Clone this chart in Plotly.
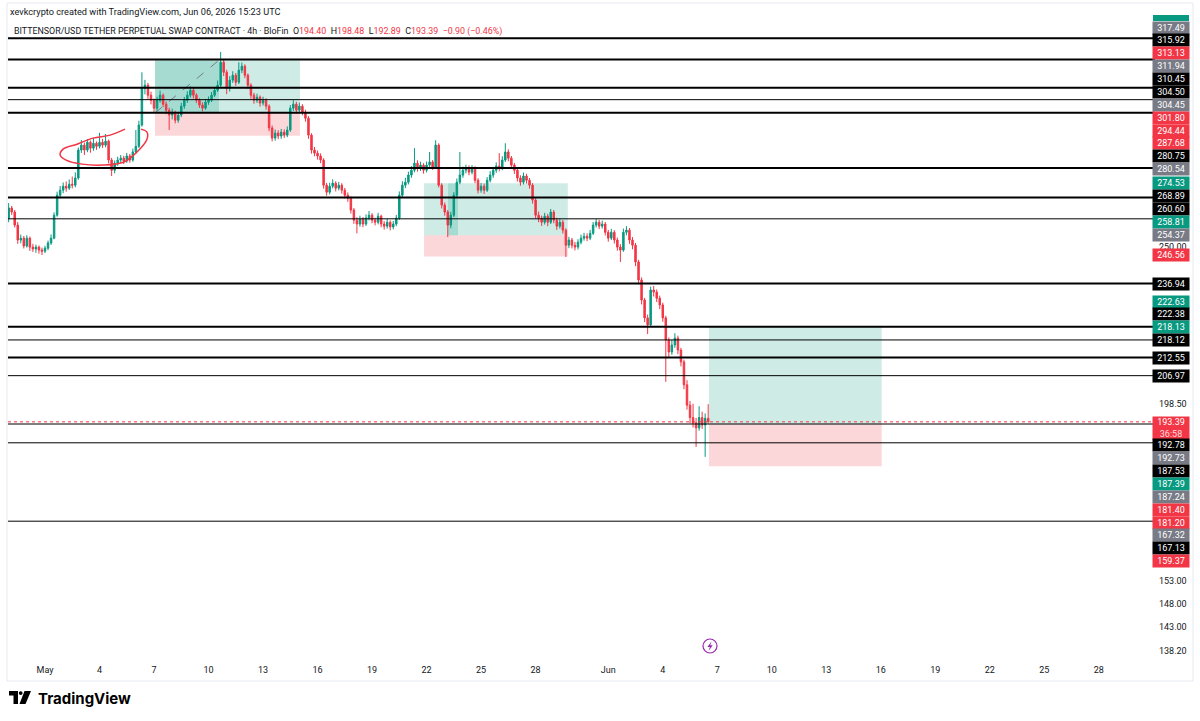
import math
import pandas as pd
import plotly.graph_objects as go

GREEN = "#089981"
RED = "#f23645"
GRAY = "#787b86"
INK = "#131722"

# 4h candles, BittensorUSDT perp on BloFin
bar_times = pd.date_range("2026-04-29 00:00", periods=232, freq="4h")

opens = [
    260.9, 264.8, 263.2, 258.2, 252.6, 253.3, 250.4, 253.3, 250.0, 249.3,
    250.0, 248.9, 248.5, 249.6, 251.5, 253.3, 262.0, 269.8, 271.8, 273.4,
    272.6, 274.2, 273.8, 276.7, 288.3, 290.4, 288.3, 291.6, 289.1, 291.2,
    289.9, 291.6, 290.4, 292.1, 284.1, 279.9, 282.8, 284.1, 284.9, 283.7,
    285.8, 284.1, 287.5, 289.9, 299.1, 315.7, 317.1, 312.5, 310.2, 306.6,
    310.2, 312.5, 308.4, 305.7, 303.5, 304.8, 301.2, 303.5, 307.5, 310.2,
    312.5, 314.8, 312.5, 310.2, 308.0, 306.6, 309.3, 310.2, 312.5, 314.8,
    317.1, 328.0, 323.2, 315.7, 319.5, 321.8, 318.5, 324.2, 326.1, 321.8,
    317.1, 312.5, 310.2, 311.6, 308.9, 310.2, 307.5, 297.8, 293.4, 295.6,
    294.3, 296.0, 294.7, 296.9, 306.6, 308.4, 305.7, 307.5, 304.8, 302.1,
    294.7, 288.3, 287.0, 285.8, 284.1, 273.8, 271.0, 273.4, 274.6, 272.6,
    273.8, 271.8, 269.8, 268.6, 264.0, 260.1, 258.6, 260.5, 258.6, 260.9,
    262.0, 260.1, 259.3, 261.6, 258.6, 257.8, 259.3, 257.5, 258.6, 260.9,
    269.8, 273.8, 275.0, 277.9, 279.9, 282.8, 280.7, 282.0, 279.9, 282.0,
    283.3, 281.2, 290.4, 273.8, 265.9, 263.2, 258.2, 262.0, 269.8, 275.0,
    277.9, 279.9, 280.7, 279.1, 280.7, 275.8, 271.8, 273.4, 271.8, 275.8,
    277.9, 279.9, 281.6, 280.7, 284.1, 287.5, 284.9, 282.0, 279.9, 276.7,
    275.0, 277.5, 275.8, 273.8, 267.9, 262.0, 260.9, 259.3, 261.6, 259.3,
    263.2, 260.1, 257.8, 259.3, 256.3, 250.7, 252.6, 250.7, 250.0, 251.8,
    253.3, 254.0, 253.3, 255.1, 258.2, 259.3, 257.8, 258.6, 255.5, 253.3,
    255.5, 252.6, 250.0, 248.9, 255.5, 256.3, 252.6, 250.7, 244.6, 238.2,
    231.3, 225.3, 223.0, 234.7, 234.0, 231.9, 229.6, 225.3, 218.1, 214.3,
    216.5, 218.7, 214.9, 211.2, 204.2, 198.2, 194.6, 193.1, 191.7, 194.6,
    192.5, 194.40,
]
highs = [
    266.7, 265.6, 264.0, 259.4, 254.6, 254.1, 254.4, 253.9, 251.2, 250.9,
    250.6, 249.8, 250.5, 252.4, 254.7, 263.1, 271.2, 273.5, 274.9, 275.3,
    276.1, 277.3, 279.0, 289.4, 292.6, 291.5, 293.0, 292.4, 293.5, 292.0,
    295.7, 293.1, 295.2, 292.8, 285.0, 283.9, 285.5, 286.2, 285.9, 287.1,
    286.7, 288.9, 296.9, 301.0, 323.2, 319.6, 318.2, 314.1, 311.0, 311.8,
    314.6, 313.3, 309.6, 306.8, 306.4, 305.5, 304.9, 309.0, 311.7, 314.3,
    316.6, 315.9, 313.4, 311.1, 309.2, 310.8, 311.9, 314.0, 316.4, 319.3,
    333.0, 329.6, 324.4, 321.4, 323.7, 322.9, 328.0, 327.9, 327.0, 322.6,
    318.0, 313.6, 313.2, 312.4, 311.8, 311.1, 308.3, 298.9, 297.1, 296.8,
    297.4, 297.2, 298.5, 308.0, 310.2, 309.5, 309.1, 308.4, 305.9, 303.0,
    295.5, 289.6, 288.1, 286.9, 284.9, 274.7, 274.8, 276.2, 275.4, 275.1,
    274.6, 272.7, 270.9, 269.3, 264.8, 261.2, 261.8, 261.3, 262.3, 263.6,
    262.8, 261.0, 262.9, 262.2, 259.7, 260.6, 260.0, 259.8, 262.1, 271.3,
    275.4, 276.8, 279.3, 281.6, 289.1, 284.0, 283.4, 282.8, 283.5, 287.5,
    284.1, 292.5, 291.2, 274.6, 266.9, 264.0, 263.3, 271.0, 276.5, 287.5,
    281.4, 282.2, 281.9, 282.0, 281.5, 276.6, 274.7, 274.5, 277.1, 279.5,
    281.3, 283.1, 287.0, 285.7, 291.2, 288.6, 285.8, 282.9, 280.8, 277.8,
    278.9, 278.4, 276.7, 274.6, 268.6, 263.4, 261.8, 262.9, 262.5, 264.4,
    264.0, 261.0, 260.6, 260.1, 257.0, 253.8, 253.4, 251.9, 252.9, 254.6,
    255.3, 255.1, 256.4, 259.4, 260.5, 260.2, 259.9, 259.4, 256.4, 256.8,
    256.3, 253.5, 251.1, 256.9, 257.8, 257.1, 253.7, 251.5, 245.4, 239.1,
    232.0, 226.4, 235.9, 236.1, 234.9, 232.8, 230.4, 226.0, 218.9, 218.2,
    220.3, 219.5, 215.6, 211.9, 205.6, 199.4, 198.6, 194.5, 197.9, 196.3,
    195.8, 198.48,
]
lows = [
    259.3, 262.1, 257.3, 251.2, 251.4, 249.5, 249.8, 248.6, 248.2, 247.9,
    247.6, 247.1, 247.8, 248.9, 250.8, 252.9, 261.4, 268.6, 270.6, 271.2,
    271.9, 272.5, 272.9, 276.0, 287.1, 286.2, 287.4, 287.2, 288.0, 288.4,
    289.0, 289.2, 289.5, 282.7, 277.5, 278.6, 281.7, 283.0, 282.4, 282.9,
    283.0, 283.4, 286.6, 289.2, 298.4, 312.9, 310.8, 308.3, 304.9, 305.4,
    309.1, 307.1, 303.9, 296.9, 301.6, 299.8, 300.1, 302.6, 306.3, 309.0,
    311.4, 311.0, 308.9, 306.7, 305.2, 305.9, 308.1, 309.4, 311.7, 313.9,
    316.2, 321.4, 313.0, 314.2, 318.2, 316.8, 317.6, 322.8, 320.4, 315.5,
    310.9, 308.6, 309.0, 307.3, 307.8, 305.9, 296.4, 292.0, 292.3, 292.9,
    293.1, 293.5, 293.8, 296.1, 305.3, 304.1, 304.6, 303.4, 300.6, 293.1,
    286.8, 285.7, 284.3, 282.8, 272.4, 269.6, 270.1, 272.5, 271.3, 271.7,
    270.4, 268.5, 267.2, 262.6, 258.7, 255.1, 257.6, 257.4, 257.9, 260.0,
    258.9, 258.1, 258.5, 257.4, 256.5, 256.9, 256.2, 256.6, 257.8, 260.2,
    268.7, 272.6, 274.1, 276.8, 279.0, 279.3, 279.6, 278.5, 279.0, 281.2,
    280.0, 280.6, 272.9, 264.6, 261.8, 253.7, 257.0, 261.3, 268.9, 274.2,
    276.8, 278.6, 277.8, 278.2, 274.6, 270.5, 270.8, 270.3, 271.1, 274.9,
    276.8, 278.8, 279.4, 279.9, 283.3, 283.6, 280.7, 278.4, 275.3, 273.6,
    274.1, 274.5, 272.4, 266.5, 260.8, 259.3, 257.9, 258.4, 257.8, 258.6,
    258.9, 256.4, 256.9, 255.0, 246.4, 249.6, 249.5, 248.8, 249.1, 251.0,
    252.4, 252.2, 252.6, 254.5, 257.3, 256.7, 256.9, 254.3, 252.0, 252.6,
    251.3, 248.7, 244.6, 248.3, 254.4, 251.2, 249.2, 243.1, 236.7, 229.8,
    223.9, 220.0, 222.4, 232.5, 230.6, 228.2, 224.0, 205.1, 212.8, 213.4,
    215.6, 213.6, 209.8, 202.9, 196.9, 193.0, 191.8, 186.4, 190.9, 191.4,
    183.7, 192.89,
]
closes = [
    264.8, 263.2, 258.2, 252.6, 253.3, 250.4, 253.3, 250.0, 249.3, 250.0,
    248.9, 248.5, 249.6, 251.5, 253.3, 262.0, 269.8, 271.8, 273.4, 272.6,
    274.2, 273.8, 276.7, 288.3, 290.4, 288.3, 291.6, 289.1, 291.2, 289.9,
    291.6, 290.4, 292.1, 284.1, 279.9, 282.8, 284.1, 284.9, 283.7, 285.8,
    284.1, 287.5, 289.9, 299.1, 315.7, 317.1, 312.5, 310.2, 306.6, 310.2,
    312.5, 308.4, 305.7, 303.5, 304.8, 301.2, 303.5, 307.5, 310.2, 312.5,
    314.8, 312.5, 310.2, 308.0, 306.6, 309.3, 310.2, 312.5, 314.8, 317.1,
    328.0, 323.2, 315.7, 319.5, 321.8, 318.5, 324.2, 326.1, 321.8, 317.1,
    312.5, 310.2, 311.6, 308.9, 310.2, 307.5, 297.8, 293.4, 295.6, 294.3,
    296.0, 294.7, 296.9, 306.6, 308.4, 305.7, 307.5, 304.8, 302.1, 294.7,
    288.3, 287.0, 285.8, 284.1, 273.8, 271.0, 273.4, 274.6, 272.6, 273.8,
    271.8, 269.8, 268.6, 264.0, 260.1, 258.6, 260.5, 258.6, 260.9, 262.0,
    260.1, 259.3, 261.6, 258.6, 257.8, 259.3, 257.5, 258.6, 260.9, 269.8,
    273.8, 275.0, 277.9, 279.9, 282.8, 280.7, 282.0, 279.9, 282.0, 283.3,
    281.2, 290.4, 273.8, 265.9, 263.2, 258.2, 262.0, 269.8, 275.0, 277.9,
    279.9, 280.7, 279.1, 280.7, 275.8, 271.8, 273.4, 271.8, 275.8, 277.9,
    279.9, 281.6, 280.7, 284.1, 287.5, 284.9, 282.0, 279.9, 276.7, 275.0,
    277.5, 275.8, 273.8, 267.9, 262.0, 260.9, 259.3, 261.6, 259.3, 263.2,
    260.1, 257.8, 259.3, 256.3, 250.7, 252.6, 250.7, 250.0, 251.8, 253.3,
    254.0, 253.3, 255.1, 258.2, 259.3, 257.8, 258.6, 255.5, 253.3, 255.5,
    252.6, 250.0, 248.9, 255.5, 256.3, 252.6, 250.7, 244.6, 238.2, 231.3,
    225.3, 223.0, 234.7, 234.0, 231.9, 229.6, 225.3, 218.1, 214.3, 216.5,
    218.7, 214.9, 211.2, 204.2, 198.2, 194.6, 193.1, 191.7, 194.6, 192.5,
    194.4, 193.39,
]

# horizontal rays drawn on the chart
level_prices = [339.8, 329.3, 315.92, 310.45, 304.50, 280.75, 268.89, 260.60,
                236.94, 222.38, 218.12, 212.55, 206.97, 192.78, 187.53, 167.13]
level_widths = [2, 2, 2, 1, 2, 2, 2, 1, 2, 2, 1, 2, 1, 1, 1, 1]

# long position tools
pos_start = ["2026-05-07 01:20", "2026-05-21 20:40", "2026-06-06 13:00"]
pos_end = ["2026-05-15 00:45", "2026-05-29 18:30", "2026-06-16 01:10"]
pos_target = [329.0, 274.53, 222.63]
pos_entry = [304.45, 254.37, 192.73]
pos_stop = [294.44, 246.56, 181.20]
pos_fill_from = ["2026-05-07 01:20", "2026-05-23 04:20", None]
pos_fill_to = ["2026-05-10 13:50", "2026-05-23 17:30", None]

# hand drawn loop around the early May range
loop_times = ["2026-05-05 09:40", "2026-05-04 14:00", "2026-05-03 15:20", "2026-05-02 18:20",
              "2026-05-01 23:50", "2026-05-01 20:00", "2026-05-02 03:50", "2026-05-03 01:00",
              "2026-05-04 04:40", "2026-05-05 08:20", "2026-05-06 02:50", "2026-05-06 14:40",
              "2026-05-06 14:40", "2026-05-06 06:50"]
loop_prices = [297.3, 294.7, 293.4, 290.8, 288.7, 286.2, 284.1, 282.4,
               282.0, 283.3, 287.9, 292.9, 296.0, 297.3]

# price scale tags (stacked on the right)
tag_text = ["317.49", "315.92", "313.13", "311.94", "310.45", "304.50", "304.45", "301.80",
            "294.44", "287.68", "280.75", "280.54", "274.53", "268.89", "260.60", "258.81",
            "254.37", "246.56", "236.94", "222.63", "222.38", "218.13", "218.12", "212.55",
            "206.97", "193.39", "192.78", "192.73", "187.53", "187.39", "187.24", "181.40",
            "181.20", "167.32", "167.13", "159.37"]
tag_kind = ["gray", "black", "red", "gray", "black", "black", "gray", "red",
            "red", "red", "black", "gray", "green", "black", "black", "green",
            "gray", "red", "black", "green", "black", "green", "black", "black",
            "black", "red", "black", "gray", "black", "green", "gray", "red",
            "red", "gray", "black", "red"]
tag_row = [28, 40, 53, 66, 79, 92, 105, 118, 131, 143, 156, 169, 183, 196, 209, 222,
           235, 255, 284, 302, 314, 327, 340, 358, 376, 428, 445, 458, 471, 484, 497, 510,
           523, 535, 548, 561]

y_ticks = [250.0, 198.5, 153.0, 148.0, 143.0, 138.2]
x_ticks = ["2026-05-01", "2026-05-04", "2026-05-07", "2026-05-10", "2026-05-13", "2026-05-16",
           "2026-05-19", "2026-05-22", "2026-05-25", "2026-05-28", "2026-06-01", "2026-06-04",
           "2026-06-07", "2026-06-10", "2026-06-13", "2026-06-16", "2026-06-19", "2026-06-22",
           "2026-06-25", "2026-06-28"]
x_tick_text = ["May", "4", "7", "10", "13", "16", "19", "22", "25", "28",
               "Jun", "4", "7", "10", "13", "16", "19", "22", "25", "28"]

tag_colors = {"gray": GRAY, "black": "#000000", "red": RED, "green": GREEN}

# plot area in screen pixels, used for overlay text placement
PL, PR, PT, PB = 8, 1155, 20, 657


def px(x):
    return (x - PL) / (PR - PL)


def py(y):
    return (PB - y) / (PB - PT)


fig = go.Figure()

fig.add_trace(go.Candlestick(
    x=bar_times, open=opens, high=highs, low=lows, close=closes,
    increasing=dict(line=dict(color=GREEN, width=1), fillcolor=GREEN),
    decreasing=dict(line=dict(color=RED, width=1), fillcolor=RED),
    whiskerwidth=0, showlegend=False, hoverinfo="skip",
))

fig.add_trace(go.Scatter(
    x=loop_times, y=loop_prices, mode="lines",
    line=dict(color=RED, width=1.5, shape="spline", smoothing=1.0),
    showlegend=False, hoverinfo="skip",
))

shapes = []
for i in range(len(pos_start)):
    shapes.append(dict(type="rect", xref="x", yref="y", x0=pos_start[i], x1=pos_end[i],
                       y0=pos_entry[i], y1=pos_target[i], fillcolor="rgba(8,153,129,0.2)",
                       line=dict(width=0), layer="below"))
    shapes.append(dict(type="rect", xref="x", yref="y", x0=pos_start[i], x1=pos_end[i],
                       y0=pos_stop[i], y1=pos_entry[i], fillcolor="rgba(242,54,69,0.2)",
                       line=dict(width=0), layer="below"))
    if pos_fill_from[i]:
        shapes.append(dict(type="rect", xref="x", yref="y", x0=pos_fill_from[i], x1=pos_fill_to[i],
                           y0=pos_entry[i], y1=pos_target[i], fillcolor="rgba(8,153,129,0.2)",
                           line=dict(width=0), layer="below"))

shapes.append(dict(type="line", xref="x", yref="y", x0=pos_fill_from[0], x1=pos_fill_to[0],
                   y0=pos_entry[0], y1=pos_target[0], line=dict(color=GRAY, width=1, dash="dash")))

for p, w in zip(level_prices, level_widths):
    shapes.append(dict(type="line", xref="paper", yref="y", x0=0, x1=1, y0=p, y1=p,
                       line=dict(color="#000000", width=w)))

shapes.append(dict(type="line", xref="paper", yref="y", x0=0, x1=1, y0=closes[-1], y1=closes[-1],
                   line=dict(color=RED, width=1, dash="dot")))

# chart frame
shapes.append(dict(type="rect", xref="paper", yref="paper", x0=px(7), x1=px(1193), y0=py(681), y1=py(3),
                   line=dict(color="#e6e9ef", width=1), layer="below"))

# partially hidden target tag at the very top of the scale
shapes.append(dict(type="rect", xref="paper", yref="paper", x0=px(1153), x1=px(1189), y0=py(21), y1=py(15),
                   fillcolor=GREEN, line=dict(width=0)))

# lightning marker on the time scale
shapes.append(dict(type="circle", xref="paper", yref="paper", x0=px(703), x1=px(717), y0=py(653), y1=py(639),
                   line=dict(color="#9c27b0", width=1.2)))
shapes.append(dict(type="path", xref="paper", yref="paper", fillcolor="#9c27b0", line=dict(width=0),
                   path=f"M{px(711.6)},{py(641.2)} L{px(707.4)},{py(647)} L{px(709.9)},{py(647)} "
                        f"L{px(708.6)},{py(651)} L{px(712.7)},{py(645.2)} L{px(710.2)},{py(645.2)} Z"))

# TradingView logo mark
shapes.append(dict(type="path", xref="paper", yref="paper", fillcolor="#000000", line=dict(width=0),
                   path=f"M{px(9)},{py(691)} L{px(18)},{py(691)} L{px(18)},{py(704)} L{px(13.5)},{py(704)} "
                        f"L{px(13.5)},{py(695.5)} L{px(9)},{py(695.5)} Z"))
shapes.append(dict(type="circle", xref="paper", yref="paper", fillcolor="#000000", line=dict(width=0),
                   x0=px(18.8), x1=px(22.6), y0=py(695), y1=py(691.2)))
shapes.append(dict(type="path", xref="paper", yref="paper", fillcolor="#000000", line=dict(width=0),
                   path=f"M{px(24.5)},{py(691)} L{px(31)},{py(691)} L{px(25.5)},{py(704)} L{px(19.5)},{py(704)} Z"))

fig.update_layout(shapes=shapes)

fig.add_annotation(x=px(8), y=py(12), xref="paper", yref="paper", xanchor="left", yanchor="middle",
                   showarrow=False, text="xevkcrypto created with TradingView.com, Jun 06, 2026 15:23 UTC",
                   font=dict(size=9.2, color=INK, family="Roboto"))

quote = (
    "BITTENSOR/USD TETHER PERPETUAL SWAP CONTRACT · 4h · BloFin  "
    f"O<span style='color:{RED}'>{opens[-1]:.2f}</span>  "
    f"H<span style='color:{RED}'>{highs[-1]:.2f}</span>  "
    f"L<span style='color:{RED}'>{lows[-1]:.2f}</span>  "
    f"C<span style='color:{RED}'>{closes[-1]:.2f}</span>  "
    f"<span style='color:{RED}'>−0.90 (−0.46%)</span>"
)
fig.add_annotation(x=px(12), y=py(31), xref="paper", yref="paper", xanchor="left", yanchor="middle",
                   showarrow=False, text=quote, font=dict(size=8.9, color=INK, family="Roboto"))

for t, k, r in zip(tag_text, tag_kind, tag_row):
    if t == "193.39":
        fig.add_annotation(x=px(1171), y=py(r), xref="paper", yref="paper", showarrow=False,
                           xanchor="center", yanchor="middle",
                           text=f"{t}<br><span style='color:#ffd9dc'>36:58</span>",
                           width=36, height=22, bgcolor=tag_colors[k], borderpad=0,
                           font=dict(size=9, color="#ffffff", family="Roboto"))
    else:
        fig.add_annotation(x=px(1171), y=py(r), xref="paper", yref="paper", showarrow=False,
                           xanchor="center", yanchor="middle",
                           text=t, width=36, height=11.5, bgcolor=tag_colors[k], borderpad=0,
                           font=dict(size=9, color="#ffffff", family="Roboto"))

fig.add_annotation(x=px(36), y=py(698), xref="paper", yref="paper", xanchor="left", yanchor="middle",
                   showarrow=False, text="<b>TradingView</b>",
                   font=dict(size=15, color="#000000", family="Inter"))

fig.update_layout(
    width=1200, height=721,
    margin=dict(l=PL, r=1200 - PR, t=PT, b=721 - PB),
    paper_bgcolor="#ffffff", plot_bgcolor="#ffffff",
    showlegend=False,
    xaxis=dict(
        type="date", range=["2026-04-28 23:07", "2026-07-01 02:10"],
        rangeslider=dict(visible=False), showgrid=False, zeroline=False, showline=False,
        tickmode="array", tickvals=x_ticks, ticktext=x_tick_text, ticks="",
        tickfont=dict(size=9, color=INK, family="Roboto"), ticklabelstandoff=6,
    ),
    yaxis=dict(
        type="log", range=[math.log10(136.9), math.log10(349.0)], side="right",
        showgrid=False, zeroline=False, showline=False, ticks="",
        tickmode="array", tickvals=y_ticks, ticktext=[f"{v:.2f}" for v in y_ticks],
        tickfont=dict(size=9, color=INK, family="Roboto"), ticklabelstandoff=3,
    ),
)

# the default page adds an 8px body margin; remove it so the figure sits at 0,0
fig.write_html(
    "out.html",
    config={"displayModeBar": False},
    post_script="document.body.style.margin='0';document.body.style.overflow='hidden';",
)
